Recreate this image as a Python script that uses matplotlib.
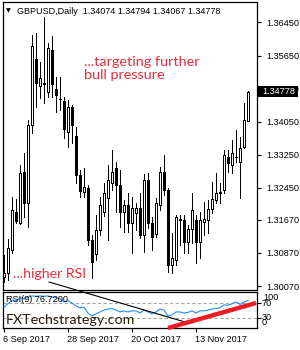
import matplotlib
matplotlib.use('Agg')
import matplotlib.pyplot as plt
from matplotlib.patches import Rectangle
from matplotlib.lines import Line2D

# ---------------- data ----------------
date_labels = ['6 Sep 2017', '28 Sep 2017', '20 Oct 2017', '13 Nov 2017']
date_label_idx = [0, 16, 32, 48]

opens = [1.30289, 1.30385, 1.30942, 1.31862, 1.31596, 1.32831, 1.32080, 1.33968,
         1.35566, 1.34913, 1.34961, 1.34767, 1.35784, 1.34840, 1.34598, 1.34550,
         1.33799, 1.34404, 1.33702, 1.32758, 1.32346, 1.32443, 1.31184, 1.30845,
         1.31426, 1.31862, 1.32201, 1.32564, 1.32927, 1.32516, 1.31862, 1.32032,
         1.31596, 1.31838, 1.31959, 1.31305, 1.32637, 1.31596, 1.31330, 1.32032,
         1.32831, 1.32395, 1.30579, 1.30700, 1.31669, 1.31669, 1.31136, 1.31451,
         1.31669, 1.31136, 1.31620, 1.31669, 1.31935, 1.32153, 1.32334, 1.32395,
         1.33194, 1.33000, 1.33182, 1.33073, 1.33436, 1.34074]
highs = [1.30821, 1.31209, 1.32225, 1.32177, 1.33000, 1.33291, 1.34090, 1.36147,
         1.36196, 1.35494, 1.36583, 1.35954, 1.36123, 1.35131, 1.35131, 1.34646,
         1.34574, 1.34453, 1.33920, 1.32879, 1.32927, 1.32516, 1.31305, 1.31790,
         1.32225, 1.32564, 1.33000, 1.33363, 1.33073, 1.32879, 1.32153, 1.32322,
         1.32225, 1.32080, 1.32322, 1.32782, 1.32806, 1.31741, 1.32201, 1.32952,
         1.33242, 1.32443, 1.31354, 1.31790, 1.31790, 1.31790, 1.31547, 1.32322,
         1.31790, 1.31862, 1.32104, 1.32153, 1.32588, 1.32806, 1.32564, 1.33363,
         1.33363, 1.33605, 1.33847, 1.33678, 1.34501, 1.34794]
lows = [1.30168, 1.30216, 1.30870, 1.31596, 1.31572, 1.31741, 1.31499, 1.33775,
        1.34404, 1.34622, 1.34501, 1.34646, 1.34646, 1.34283, 1.34332, 1.33654,
        1.33436, 1.33533, 1.32564, 1.32225, 1.32225, 1.31063, 1.30264, 1.30700,
        1.31305, 1.31765, 1.31184, 1.32395, 1.31862, 1.31499, 1.31378, 1.31378,
        1.30870, 1.31426, 1.31233, 1.30894, 1.31475, 1.30942, 1.31257, 1.31911,
        1.32274, 1.30410, 1.30385, 1.30579, 1.31063, 1.30870, 1.30870, 1.31112,
        1.30628, 1.30749, 1.31305, 1.31354, 1.31838, 1.32080, 1.32080, 1.32322,
        1.32831, 1.32806, 1.33073, 1.32201, 1.33412, 1.34067]
closes = [1.30385, 1.30991, 1.31911, 1.31644, 1.32806, 1.32080, 1.33968, 1.35881,
          1.34985, 1.35106, 1.34985, 1.35833, 1.34961, 1.34695, 1.34586, 1.33872,
          1.34404, 1.33968, 1.32758, 1.32371, 1.32467, 1.31184, 1.30652, 1.31426,
          1.32032, 1.32322, 1.32637, 1.32831, 1.32516, 1.31862, 1.32032, 1.31596,
          1.31959, 1.31959, 1.31305, 1.32637, 1.31596, 1.31257, 1.32080, 1.32831,
          1.32395, 1.30579, 1.30749, 1.31741, 1.31693, 1.31136, 1.31451, 1.31911,
          1.31136, 1.31669, 1.31693, 1.31935, 1.32177, 1.32322, 1.32346, 1.33242,
          1.33048, 1.33291, 1.33194, 1.33412, 1.34090, 1.34778]
rsi = [59, 68, 78, 76, 84, 81, 86, 89, 88, 89, 88, 89, 86, 84, 81, 73,
       76, 70, 62, 57, 59, 43, 35, 41, 46, 51, 54, 55, 51, 46, 49, 46,
       49, 49, 43, 51, 46, 41, 46, 54, 51, 35, 38, 46, 46, 43, 45, 49,
       43, 49, 49, 51, 54, 55, 57, 65, 64, 68, 73, 66, 72, 76.72]

price_ticks = [1.36450, 1.35650, 1.34850, 1.34050, 1.33250, 1.32450, 1.31670, 1.30870, 1.30070]
price_tick_labels = ['1.36450', '1.35650', '1.34850', '1.34050', '1.33250', '1.32450', '1.31670', '1.30870', '1.30070']
rsi_levels = [30, 70]
rsi_level_labels = ['100', '70', '30', '0']

header = 'GBPUSD,Daily  1.34074 1.34794 1.34067 1.34778'
rsi_title = 'RSI(9) 76.7200'
note_top = '...targeting further\nbull pressure'
note_bottom = '...higher RSI'
brand = 'FXTechstrategy.com'

# ---------------- figure ----------------
W, H = 300, 350
fig = plt.figure(figsize=(3.0, 3.5), dpi=100)
fig.patch.set_facecolor('white')

def fx(px):
    return px / W

def fy(py):
    return 1 - py / H

ax = fig.add_axes([fx(3), fy(290), fx(254), 288 / H])
axr = fig.add_axes([fx(3), fy(328), fx(254), 36 / H])

AXF = 'Liberation Sans'
small = 6.6
n = len(opens)
xs = list(range(n))

for a in (ax, axr):
    for s in a.spines.values():
        s.set_linewidth(0.9)
        s.set_color('black')
    a.set_facecolor('white')
    a.set_xlim(-0.25, 63.25)

# candles
bw = 0.5
for i in xs:
    o, h, l, c = opens[i], highs[i], lows[i], closes[i]
    lo, hi = min(o, c), max(o, c)
    ax.vlines(i, hi, h, color='black', lw=0.72, antialiased=False, zorder=2)
    ax.vlines(i, l, lo, color='black', lw=0.72, antialiased=False, zorder=2)
    if hi - lo < 0.00012:
        ax.hlines((o + c) / 2, i - bw / 2, i + bw / 2, color='black', lw=0.72,
                  antialiased=False, zorder=3)
    else:
        fc = 'white' if c > o else 'black'
        ax.add_patch(Rectangle((i - bw / 2, lo), bw, hi - lo, facecolor=fc, edgecolor='black',
                               lw=0.72, antialiased=False, zorder=3))

ax.set_ylim(1.29974, 1.36946)
ax.yaxis.tick_right()
ax.set_yticks(price_ticks)
ax.set_yticklabels(price_tick_labels, fontsize=small, family=AXF)
ax.tick_params(axis='y', direction='out', length=3, width=0.8, pad=4)
ax.set_xticks([])

# RSI
axr.plot(xs, rsi, color='#1e90ff', lw=0.8, zorder=3)
for lv in rsi_levels:
    axr.axhline(lv, color='#a8a8a8', lw=0.8, ls=(0, (3, 2)), zorder=1)
axr.set_ylim(3, 99.5)
axr.yaxis.tick_right()
axr.set_yticks(rsi_levels)
axr.set_yticklabels([])
axr.tick_params(axis='y', direction='out', length=3, width=0.8)
axr.set_xticks(date_label_idx)
axr.set_xticklabels([])
axr.tick_params(axis='x', direction='out', length=3, width=0.8)

for idx, lab in zip(date_label_idx, date_labels):
    xpix = 3 + (idx + 0.25) * 4
    fig.text(fx(xpix - 1), fy(339), lab, fontsize=small, family=AXF, ha='left', va='center')

rsi_label_y = [298, 303, 318, 322.5]
rsi_label_x = [263, 261.5, 262, 262]
for lab, yy, xx in zip(rsi_level_labels, rsi_label_y, rsi_label_x):
    fig.text(fx(xx), fy(yy), lab, fontsize=small, family=AXF, ha='left', va='center')

# texts
fig.text(fx(5.5), fy(11), '\u25BC', fontsize=4.5, family='DejaVu Sans', ha='left', va='center')
fig.text(fx(17), fy(11), header, fontsize=small * 0.98, family=AXF, ha='left', va='center')
fig.text(fx(6), fy(300), rsi_title, fontsize=small, family=AXF, ha='left', va='center')
fig.text(fx(84), fy(68.5), note_top, fontsize=10.4, family='Lato', color='#ee2a3a',
         ha='left', va='center', linespacing=1.12)
fig.text(fx(13), fy(274), note_bottom, fontsize=10.2, family='Lato', color='#ee2a3a',
         ha='left', va='center')
fig.text(fx(6), fy(320), brand, fontsize=10.3, family='Lato', color='#2b2010',
         ha='left', va='center')

# trend lines (drawn across panels in figure space)
fig.add_artist(Line2D([fx(49), fx(185)], [fy(282), fy(322)], color='black', lw=0.8, zorder=5))
fig.add_artist(Line2D([fx(168), fx(256)], [fy(328), fy(303)], color='#ee1c25', lw=3.2,
                      solid_capstyle='butt', zorder=5))

# current price box
last_close = closes[-1]
fig.add_artist(Rectangle((fx(258), fy(97)), fx(40), 11 / H, facecolor='black',
                         edgecolor='none', zorder=6))
fig.text(fx(262), fy(91.6), f'{last_close:.5f}', fontsize=small, family=AXF, color='white',
         ha='left', va='center', zorder=7)

fig.savefig('out.png', dpi=100, facecolor='white')
